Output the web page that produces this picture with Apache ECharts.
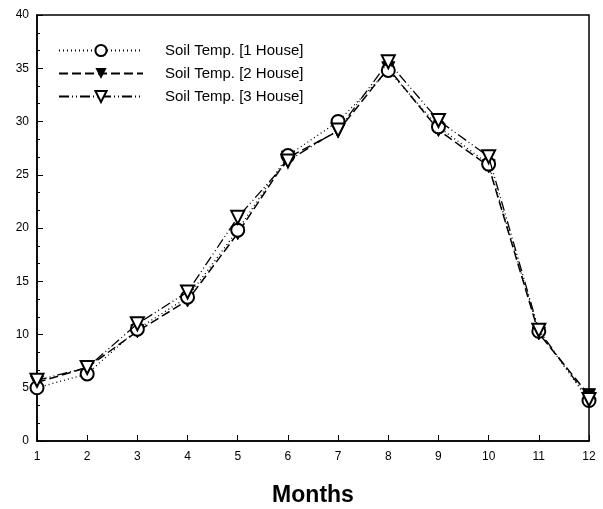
<!DOCTYPE html>
<html><head><meta charset="utf-8">
<script src="https://cdn.jsdelivr.net/npm/echarts@6/dist/echarts.min.js"></script>
<style>html,body{margin:0;padding:0;background:#fff}#c{width:603px;height:509px}</style>
</head><body><div id="c"></div>
<script>
const months = [1,2,3,4,5,6,7,8,9,10,11,12];
const seriesNames = ['Soil Temp. [1 House]','Soil Temp. [2 House]','Soil Temp. [3 House]'];
const house1 = [5.0, 6.3, 10.5, 13.5, 19.8, 26.8, 30.0, 34.8, 29.5, 26.0, 10.3, 3.8];
const house2 = [5.5, 6.9, 10.3, 13.2, 19.5, 26.6, 29.1, 35.0, 29.2, 25.8, 10.1, 4.3];
const house3 = [5.7, 6.9, 11.0, 14.0, 21.0, 26.3, 29.2, 35.6, 30.1, 26.7, 10.4, 3.9];
const yTicks = [0,5,10,15,20,25,30,35,40];

const chart = echarts.init(document.getElementById('c'));
const font = 'Liberation Sans, Arial, sans-serif';
function pts(arr){ return months.map((m,i)=>[m,arr[i]]); }
chart.setOption({
  animation:false,
  backgroundColor:'#fff',
  grid:{left:37,right:14,top:15,bottom:68,show:true,borderColor:'#000',borderWidth:1.5,
        containLabel:false,outerBoundsMode:'none'},
  legend:{
    left:53, top:38, orient:'vertical', itemWidth:84, itemHeight:14, itemGap:8,
    textStyle:{fontFamily:font,fontSize:15,color:'#000',padding:[0,0,0,17]},
    data:seriesNames
  },
  xAxis:{
    type:'value', min:1, max:12, interval:1,
    name:'Months', nameLocation:'middle', nameGap:43,
    nameTextStyle:{fontFamily:font,fontSize:23,fontWeight:'bold',color:'#000'},
    axisLine:{show:true,lineStyle:{color:'#000',width:1.5}},
    axisTick:{show:true,inside:true,length:6,lineStyle:{color:'#000'}},
    axisLabel:{fontFamily:font,fontSize:12,color:'#000',margin:10},
    splitLine:{show:false}
  },
  yAxis:{
    type:'value', min:yTicks[0], max:yTicks[yTicks.length-1], interval:5,
    axisLine:{show:true,lineStyle:{color:'#000',width:1.5}},
    axisTick:{show:true,inside:true,length:6,lineStyle:{color:'#000'}},
    minorTick:{show:true,splitNumber:3,length:3,lineStyle:{color:'#000'}},
    axisLabel:{fontFamily:font,fontSize:12,color:'#000',margin:8},
    splitLine:{show:false}
  },
  series:[
    {name:seriesNames[0],type:'line',data:pts(house1),symbol:'emptyCircle',symbolSize:13,
     itemStyle:{color:'#000',borderColor:'#000',borderWidth:1.5},
     lineStyle:{color:'#000',width:1.3,type:[1,3]},z:3},
    {name:seriesNames[1],type:'line',data:pts(house2),symbol:'triangle',symbolRotate:180,symbolSize:13,
     itemStyle:{color:'#000',borderColor:'#000'},
     lineStyle:{color:'#000',width:1.5,type:[9,4]},z:2},
    {name:seriesNames[2],type:'line',data:pts(house3),symbol:'emptyTriangle',symbolRotate:180,symbolSize:13,
     itemStyle:{color:'#000',borderColor:'#000',borderWidth:1.5},
     lineStyle:{color:'#000',width:1.3,type:[10,3,1,3,1,3]},z:4}
  ]
});
</script></body></html>
